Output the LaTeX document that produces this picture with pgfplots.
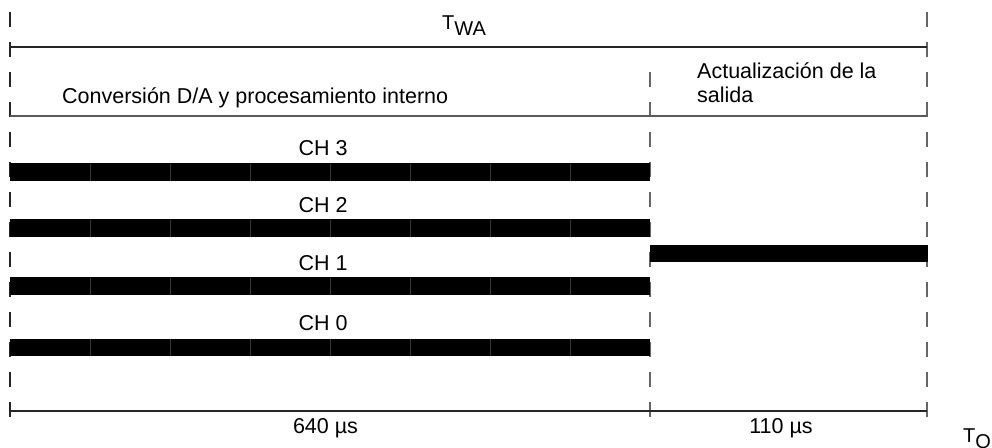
\documentclass[border=0pt]{standalone}
\usepackage{pgfplots}
\pgfplotsset{compat=1.18}
\usepackage{fontspec}
\setmainfont{Liberation Sans}
\begin{document}
\fontsize{21.5}{25}\selectfont
\begin{tikzpicture}
\begin{axis}[
  width=992pt, height=447pt, scale only axis,
  xmin=0, xmax=992, ymin=0, ymax=447, y dir=reverse,
  hide axis, clip=false,
]
% dashed vertical guide lines
\addplot[black!85, line width=1.3pt, dash pattern=on 15pt off 15pt] coordinates {(10,12) (10,419)};
\addplot[black!60, line width=1.3pt, dash pattern=on 15pt off 15pt] coordinates {(650,72) (650,419)};
\addplot[black!60, line width=1.3pt, dash pattern=on 15pt off 15pt] coordinates {(927,12) (927,419)};
% horizontal dimension lines
\addplot[black!85, line width=1.3pt] coordinates {(10,47) (927,47)};
\addplot[black!65, line width=1.3pt] coordinates {(10,116) (927,116)};
\addplot[black!85, line width=1.3pt] coordinates {(10,411) (927,411)};
% channel bars (CH3, CH2, CH1, CH0)
\addplot[black, line width=18pt] coordinates {(10,172) (650,172)};
\addplot[black, line width=18pt] coordinates {(10,228) (650,228)};
\addplot[black, line width=18pt] coordinates {(10,286) (650,286)};
\addplot[black, line width=17.5pt] coordinates {(10,347.5) (650,347.5)};
% output update bar
\addplot[black, line width=17.5pt] coordinates {(650,253.5) (928,253.5)};
% segment dividers
\addplot[only marks, mark=|, mark size=8.5pt, mark options={draw=black!78, line width=0.5pt}] coordinates {
 (90,172) (170,172) (250,172) (330,172) (410,172) (490,172) (570,172)
 (90,228) (170,228) (250,228) (330,228) (410,228) (490,228) (570,228)
 (90,286) (170,286) (250,286) (330,286) (410,286) (490,286) (570,286)
 (90,347.5) (170,347.5) (250,347.5) (330,347.5) (410,347.5) (490,347.5) (570,347.5)
};
% labels
\node[anchor=base west, inner sep=0pt, font=\fontsize{20}{24}\selectfont] at (axis cs:442,29) {T\raisebox{-6pt}{WA}};
\node[anchor=base west, inner sep=0pt] at (axis cs:62,103) {Conversión D/A y procesamiento interno};
\node[anchor=base west, inner sep=0pt] at (axis cs:697,78) {Actualización de la};
\node[anchor=base west, inner sep=0pt] at (axis cs:697,102) {salida};
\node[anchor=base, inner sep=0pt] at (axis cs:323,155.5) {CH 3};
\node[anchor=base, inner sep=0pt] at (axis cs:323,212.5) {CH 2};
\node[anchor=base, inner sep=0pt] at (axis cs:323,270.5) {CH 1};
\node[anchor=base, inner sep=0pt] at (axis cs:323,330) {CH 0};
\node[anchor=base, inner sep=0pt] at (axis cs:325.5,433) {640 µs};
\node[anchor=base, inner sep=0pt] at (axis cs:781,433) {110 µs};
\node[anchor=base west, inner sep=0pt, font=\fontsize{20}{24}\selectfont] at (axis cs:963,442) {T\raisebox{-6pt}{O}};
\end{axis}
\pgfresetboundingbox
\path (current axis.south west) rectangle (current axis.north east);
\end{tikzpicture}
\end{document}
